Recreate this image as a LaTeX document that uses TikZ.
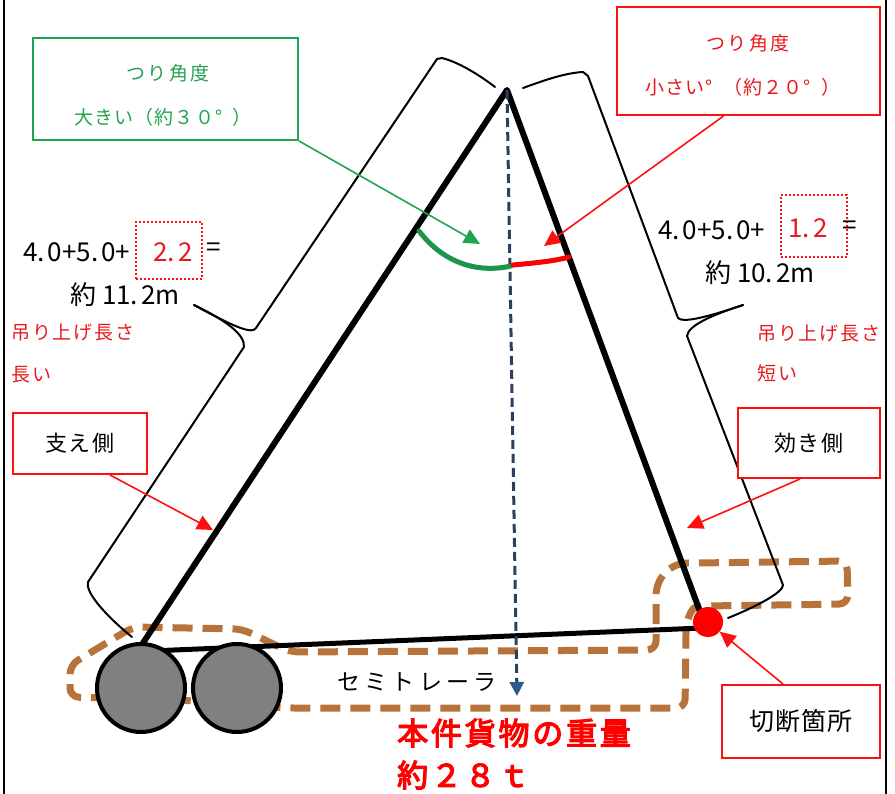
\documentclass[tikz,border=0pt]{standalone}
\usepackage{fontspec}
\setmainfont{Noto Sans CJK JP}
\newfontfamily\heavyfont{Noto Sans CJK JP}[FakeBold=4]
\usetikzlibrary{arrows.meta}

\definecolor{gline}{HTML}{1FA552}
\definecolor{gtext}{HTML}{22A34F}
\definecolor{rline}{HTML}{FF1010}
\definecolor{rtext}{HTML}{E8191E}
\definecolor{brn}{HTML}{B8733A}
\definecolor{plumb}{HTML}{2B3F5E}
\definecolor{plumbhead}{HTML}{2E5A90}
\definecolor{tyre}{HTML}{808080}

\newcommand\jsize[1]{\fontsize{#1}{#1}\selectfont}
\newcommand\spaced[1]{\addfontfeatures{LetterSpace=#1}}
\newcommand\degsp{°\hspace{0.55em}}

\tikzset{
  legline/.style={line width=6pt, line cap=round, line join=round},
  deckline/.style={line width=5pt, line cap=round},
  braceline/.style={line width=2pt, line cap=round, line join=round},
  redbox/.style={draw=rline, line width=2pt, inner sep=0pt, fill=white},
  greenbox/.style={draw=gline, line width=2pt, inner sep=0pt, fill=white},
  dotbox/.style={draw=rline, line width=2pt, dash pattern=on 2pt off 2pt, inner sep=0pt},
  redarrow/.style={draw=rline, line width=1.6pt, -{Triangle[length=16pt,width=15pt]}},
  greenarrow/.style={draw=gline, line width=1.6pt, -{Triangle[length=16pt,width=15pt]}},
  loadline/.style={draw=brn, line width=7pt, dash pattern=on 20pt off 10pt, line join=round},
  tyrenode/.style={circle, draw=black, line width=4pt, fill=tyre, minimum size=88pt, inner sep=0pt},
  plain/.style={inner sep=0pt, text=black},
}

\begin{document}
\begin{tikzpicture}[x=1pt, y=-1pt]
\useasboundingbox (0,0) rectangle (895,794);

% page frame lines
\draw[line width=2.5pt] (4,0) -- (4,794);
\draw[line width=2.5pt] (886,0) -- (886,794);

% key points of the crane sling triangle
\coordinate (apex) at (507,90);
\coordinate (lfoot) at (143,643);
\coordinate (rfoot) at (702,617);
\coordinate (ldeck) at (150,651);
\coordinate (rdeck) at (702,628);
\coordinate (plumbend) at (517,696);

% load outline around the semitrailer and tractor coupling
\draw[loadline, rounded corners=9pt]
  (180,700) -- (70,697) -- (70,665) -- (133,627) -- (242,629) -- (290,652)
  -- (656,650) -- (656,605) .. controls (656,578) and (670,563) .. (697,563)
  -- (847,561) -- (848,604) -- (704,606) .. controls (692,608) and (686,620) .. (686,640)
  -- (685,708) -- (285,708) -- cycle;

% braces marking the two sling lengths
\draw[braceline] (495,87) .. controls (478,74) and (458,62) .. (442,58) -- (437,59) -- (256,328)
  .. controls (252,334) and (238,329) .. (194,305);
\draw[braceline] (194,305) .. controls (225,320) and (245,334) .. (244,347) -- (88,582)
  .. controls (85,592) and (105,615) .. (132,637);
\draw[braceline] (523,88) .. controls (545,80) and (565,73) .. (583,72) -- (588,76) -- (678,318)
  .. controls (682,323) and (705,318) .. (743,305);
\draw[braceline] (743,305) .. controls (715,314) and (688,325) .. (687,336) -- (783,585)
  .. controls (783,592) and (760,605) .. (728,618);

% sling legs and deck
\draw[legline] (lfoot) -- (apex) -- (rfoot);
\draw[deckline] (ldeck) -- (rdeck);

% centre of gravity plumb line
\draw[plumb, line width=3pt, dash pattern=on 9pt off 5pt,
  -{Triangle[length=14pt,width=14pt,color=plumbhead]}] (apex) -- (plumbend);

% sling angle arcs
\draw[gline!90!black, line width=5pt, line cap=round] (419,231) .. controls (445,265) and (480,273) .. (511,266);
\draw[red, line width=5pt, line cap=round] (513,265) .. controls (535,263) and (555,261) .. (569,257);

% wheels and cut point
\node[tyrenode] (tyre1) at (141,688) {};
\node[tyrenode] (tyre2) at (237,688) {};
\node[circle, fill=red, minimum size=30pt, inner sep=0pt] (cut) at (708,622) {};

% angle call-outs
\node[greenbox, minimum width=265pt, minimum height=102pt] (gbox) at (165.5,89) {};
\node[plain, text=gtext] (gline1) at (168,73) {\jsize{19}\spaced{12}つり角度};
\node[plain, text=gtext] (gline2) at (163,117) {\jsize{19}\spaced{6}大きい（約３０\degsp）};
\node[redbox, minimum width=263pt, minimum height=108pt] (rbox) at (748.5,61) {};
\node[plain, text=rtext] (rline1) at (748,43) {\jsize{19}\spaced{12}つり角度};
\node[plain, text=rtext] (rline2) at (743,87) {\jsize{19}\spaced{6}小さい\degsp（約２０\degsp）};
\coordinate (gtip) at (480,244);
\coordinate (rtip) at (544,246);
\draw[greenarrow] (gbox.south east) -- (gtip);
\draw[redarrow] ([xshift=-25pt]rbox.south) -- (rtip);

% left sling length
\node[plain, anchor=west] (lsum) at (23,252) {\jsize{26}4.\kern3pt0+5.\kern3pt0+};
\node[dotbox, minimum width=66pt, minimum height=57pt] (ldots) at (169,250.5) {};
\node[plain, text=rtext] (lval) at (173,252) {\jsize{26}2.\kern3pt2};
\node[plain] (leq) at (214,250) {\jsize{26}=};
\node[plain] (lres) at (125,295) {\jsize{26}約 11.\kern3pt2m};
\node[plain, anchor=west, text=rtext] (lnote1) at (11,332) {\jsize{19}\spaced{10}吊り上げ長さ};
\node[plain, anchor=west, text=rtext] (lnote2) at (11,375) {\jsize{19}\spaced{10}長い};

% right sling length
\node[plain, anchor=west] (rsum) at (658,230) {\jsize{26}4.\kern3pt0+5.\kern3pt0+};
\node[dotbox, minimum width=66pt, minimum height=62pt] (rdots) at (814,226) {};
\node[plain, text=rtext] (rval) at (808,228) {\jsize{26}1.\kern3pt2};
\node[plain] (req) at (850,228) {\jsize{26}=};
\node[plain] (rres) at (760,273) {\jsize{26}約 10.\kern3pt2m};
\node[plain, anchor=west, text=rtext] (rnote1) at (757,333) {\jsize{19}\spaced{10}吊り上げ長さ};
\node[plain, anchor=west, text=rtext] (rnote2) at (757,373) {\jsize{19}\spaced{10}短い};

% side call-outs
\node[redbox, minimum width=134pt, minimum height=61pt] (hold) at (80,443.5) {\jsize{22}\spaced{6}支え側};
\node[redbox, minimum width=142pt, minimum height=70pt] (pull) at (809,443) {\jsize{22}\spaced{8}効き側};
\node[redbox, minimum width=158pt, minimum height=73pt] (cutbox) at (801,721.5) {\jsize{25}\spaced{5}切断箇所};
\coordinate (holdtip) at (213,530);
\coordinate (pulltip) at (687,528);
\draw[redarrow] ([xshift=30pt]hold.south) -- (holdtip);
\draw[redarrow] ([xshift=-9pt]pull.south) -- (pulltip);
\draw[redarrow] ([xshift=-18pt]cutbox.north) -- (cut);

% trailer name and load weight
\node[plain] (trailer) at (417,682) {\jsize{23}\spaced{18}セミトレーラ};
\node[plain, anchor=west, text=red] (weight1) at (397,733) {\jsize{31}\heavyfont\addfontfeatures{LetterSpace=9}本件貨物の重量};
\node[plain, anchor=west, text=red] (weight2) at (397,775) {\jsize{31}\heavyfont\addfontfeatures{LetterSpace=9}約２８ｔ};
\end{tikzpicture}
\end{document}
